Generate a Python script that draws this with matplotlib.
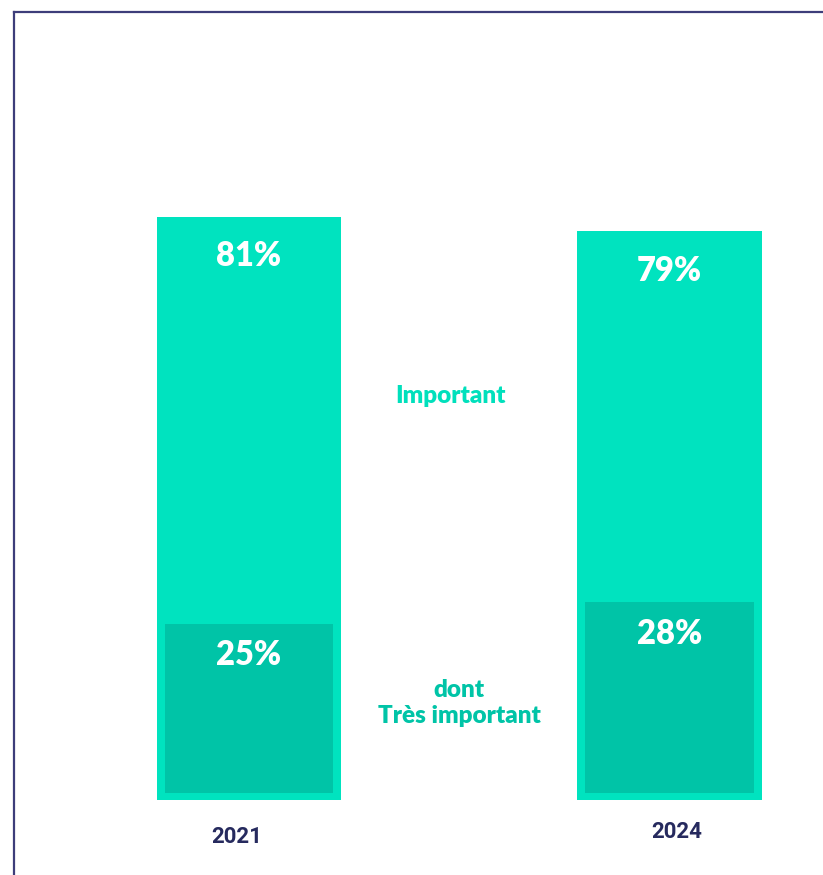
import matplotlib.pyplot as plt
from matplotlib.lines import Line2D

years = ['2021', '2024']
important = [81, 79]
tres_important = [25, 28]

outer_color = '#00E3BF'
inner_color = '#00C4A7'
navy = '#262a5e'

fig = plt.figure(figsize=(8.23, 8.75), dpi=100)
ax = fig.add_axes([0, 0, 1, 1])
ax.set_xlim(-0.592, 1.365)
ax.set_ylim(-10.42, 111.1)
ax.axis('off')

x = [0, 1]
ax.bar(x, important, width=0.4376, color=outer_color, zorder=1)
ax.bar(x, [v - 1.5 for v in tres_important], bottom=1, width=0.3995,
       color=inner_color, zorder=2)

for xi, v in zip(x, important):
    ax.annotate(f'{v}%', (xi, v), xytext=(0, -28.5), textcoords='offset points',
                ha='center', va='center', color='white', fontsize=23.5,
                fontweight='heavy', family='Lato', zorder=3)
for xi, v in zip(x, tres_important):
    ax.annotate(f'{v}%', (xi, v), xytext=(0, -25.5), textcoords='offset points',
                ha='center', va='center', color='white', fontsize=23.5,
                fontweight='heavy', family='Lato', zorder=3)

# year labels under the bars
for xi, yr, dx, dy in zip(x, years, [-9, 5], [-27, -23]):
    ax.annotate(yr, (xi, 0), xytext=(dx, dy), textcoords='offset points',
                ha='center', va='center', color=navy, fontsize=16,
                fontweight='bold', family='Roboto')

ax.text(0.48, 56.1, 'Important', ha='center', va='center', color='#00E0BC',
        fontsize=17.5, fontweight='heavy', family='Lato')
ax.text(0.5, 13.5, 'dont\nTrès important', ha='center', va='center',
        color=inner_color, fontsize=17.5, fontweight='heavy', family='Lato',
        linespacing=1.2)

# frame on the left and top
fig.add_artist(Line2D([13.5 / 823, 13.5 / 823], [0, 1 - 11.5 / 875],
                      color='#3d3d7a', lw=1.6, transform=fig.transFigure))
fig.add_artist(Line2D([13.5 / 823, 1], [1 - 11.5 / 875, 1 - 11.5 / 875],
                      color='#3d3d7a', lw=1.6, transform=fig.transFigure))

fig.savefig('out.png', dpi=100)
